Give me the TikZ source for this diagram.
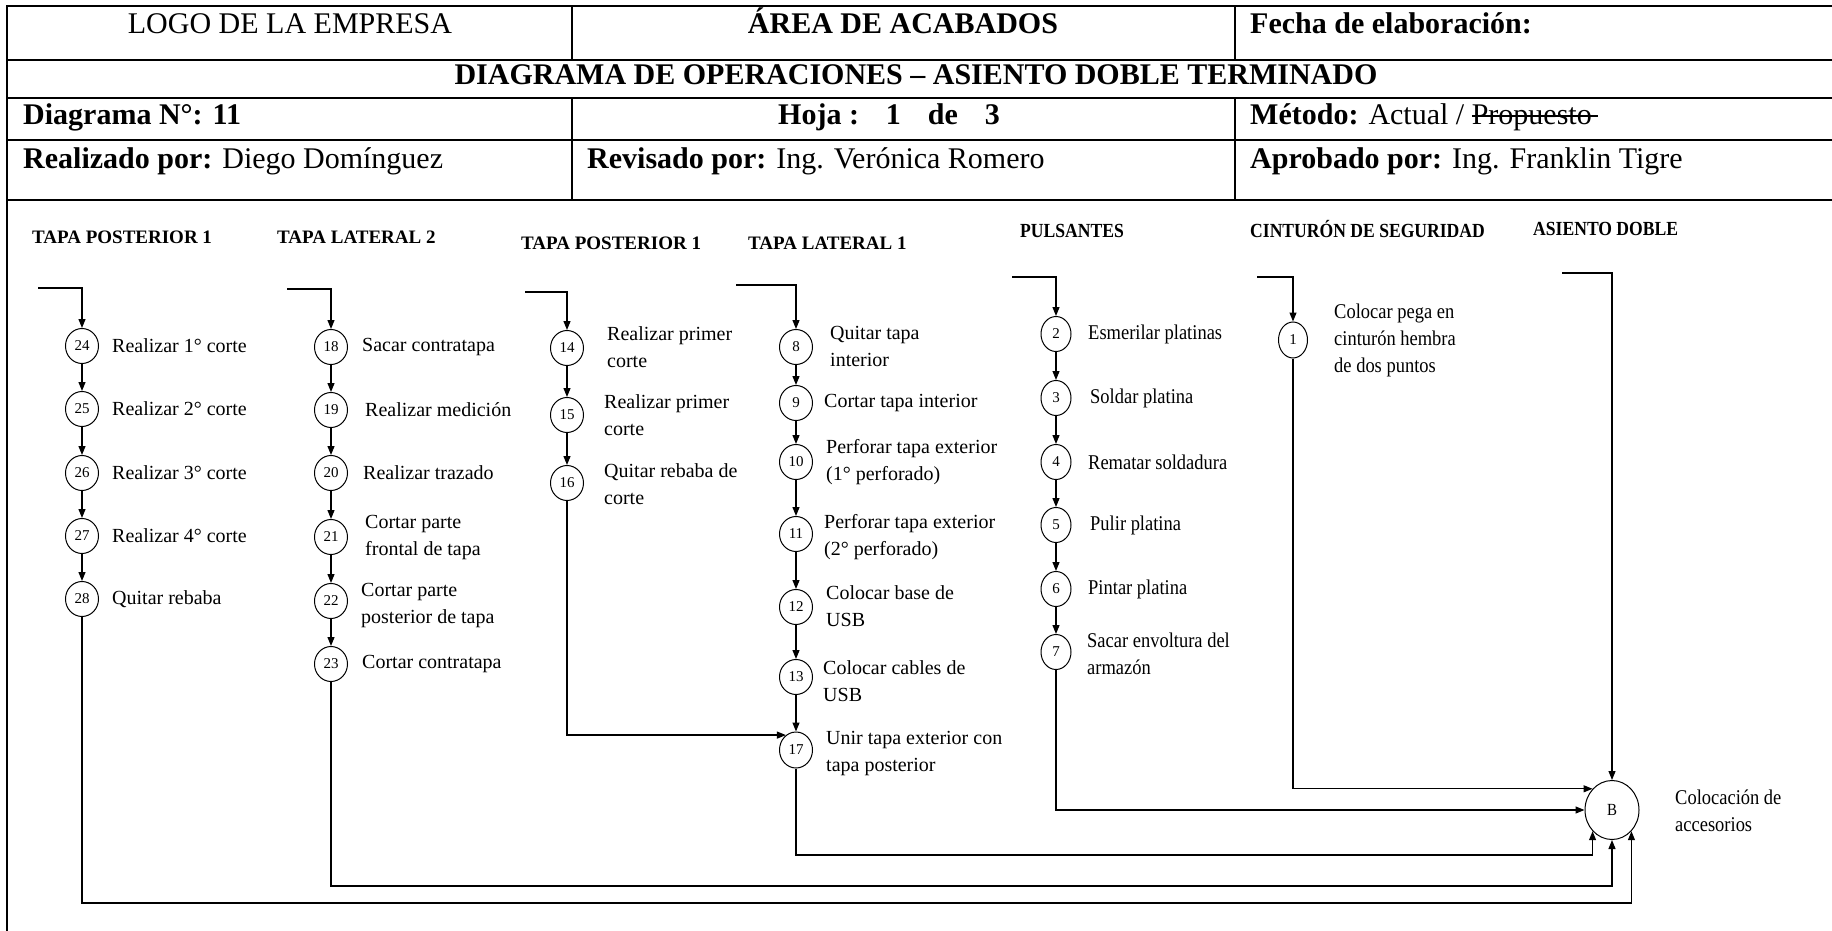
\documentclass[tikz,border=0pt]{standalone}
\usepackage{fontspec}
\setmainfont{Liberation Serif}
\newfontfamily\narrowserif[FakeStretch=0.88]{Liberation Serif}
\usetikzlibrary{arrows.meta,shapes.geometric}
% struck-through word
\newcommand{\tachado}[1]{\setbox0\hbox{#1}\rlap{\rule[0.28em]{\dimexpr\wd0+0.2em\relax}{1.3pt}}\box0}

\begin{document}
\begin{tikzpicture}[x=1pt,y=-1pt,
  frame/.style={line width=2pt},
  link/.style={line width=1.2pt},
  arr/.style={link,-{Triangle[length=9pt,width=7pt]}},
  op/.style={draw,ellipse,line width=1pt,minimum width=33pt,minimum height=35pt,
    inner sep=0pt,font=\fontsize{15}{15}\selectfont},
  opn/.style={op,minimum width=30pt,minimum height=35pt},
  lbl/.style={anchor=west,align=left,inner sep=0pt,font=\fontsize{20}{27}\selectfont},
  lbln/.style={lbl,font=\narrowserif\fontsize{21}{27}\selectfont},
  ttl/.style={anchor=base west,inner sep=0pt,font=\fontsize{19}{22}\selectfont\bfseries},
  ttln/.style={ttl,font=\narrowserif\fontsize{20}{22}\selectfont\bfseries},
  htxt/.style={inner sep=0pt,font=\fontsize{30}{34}\selectfont}]
\useasboundingbox (0,0) rectangle (1832,931);

% ---------- header table ----------
\draw[frame] (7,931) -- (7,6) -- (1832,6);
\foreach \yy in {60,98,140,200} \draw[frame] (7,\yy) -- (1832,\yy);
\foreach \xx in {572,1235} {
  \draw[frame] (\xx,6) -- (\xx,60);
  \draw[frame] (\xx,98) -- (\xx,200);
}
\node[htxt,anchor=base] (logo) at (290,34) {LOGO DE LA EMPRESA};
\node[htxt,anchor=base] (area) at (903,34) {\bfseries ÁREA DE ACABADOS};
\node[htxt,anchor=base west] (fecha) at (1250,34) {\bfseries Fecha de elaboración:};
\node[htxt,anchor=base] (titulo) at (916,85) {\bfseries DIAGRAMA DE OPERACIONES – ASIENTO DOBLE TERMINADO};
\node[htxt,anchor=base west] (num) at (23,125) {\bfseries Diagrama N°: 11};
\node[htxt,anchor=base west] (hoja) at (778,125) {\bfseries Hoja :\hspace{0.9em}1\hspace{0.9em}de\hspace{0.9em}3};
\node[htxt,anchor=base west] (metodo) at (1250,125) {\textbf{Método:} Actual / \tachado{Propuesto}};
\node[htxt,anchor=base west] (realiza) at (23,168) {\textbf{Realizado por:} Diego Domínguez};
\node[htxt,anchor=base west] (revisa) at (587,168) {\textbf{Revisado por:} Ing. Verónica Romero};
\node[htxt,anchor=base west] (aprueba) at (1250,168) {\textbf{Aprobado por:} Ing. Franklin Tigre};

% ---------- column titles ----------
\node[ttl] (t1) at (32,243) {TAPA POSTERIOR 1};
\node[ttl] (t2) at (277,243) {TAPA LATERAL 2};
\node[ttl] (t3) at (521,249) {TAPA POSTERIOR 1};
\node[ttl] (t4) at (748,249) {TAPA LATERAL 1};
\node[ttln] (t5) at (1020,237) {PULSANTES};
\node[ttln] (t6) at (1250,237) {CINTURÓN DE SEGURIDAD};
\node[ttln] (t7) at (1533,235) {ASIENTO DOBLE};

% ---------- tapa posterior 1 (24-28) ----------
\node[op] (c24) at (82,346) {24};
\node[op] (c25) at (82,409) {25};
\node[op] (c26) at (82,473) {26};
\node[op] (c27) at (82,536) {27};
\node[op] (c28) at (82,599) {28};
\node[lbl] (l24) at (112,346) {Realizar 1° corte};
\node[lbl] (l25) at (112,409) {Realizar 2° corte};
\node[lbl] (l26) at (112,473) {Realizar 3° corte};
\node[lbl] (l27) at (112,536) {Realizar 4° corte};
\node[lbl] (l28) at (112,599) {Quitar rebaba};

% ---------- tapa lateral 2 (18-23) ----------
\node[op] (c18) at (331,347) {18};
\node[op] (c19) at (331,410) {19};
\node[op] (c20) at (331,473) {20};
\node[op] (c21) at (331,537) {21};
\node[op] (c22) at (331,601) {22};
\node[op] (c23) at (331,664) {23};
\node[lbl] (l18) at (362,347) {Sacar contratapa};
\node[lbl] (l19) at (365,410) {Realizar medición};
\node[lbl] (l20) at (363,473) {Realizar trazado};
\node[lbl] (l21) at (365,538) {Cortar parte\\frontal de tapa};
\node[lbl] (l22) at (361,606) {Cortar parte\\posterior de tapa};
\node[lbl] (l23) at (362,664) {Cortar contratapa};

% ---------- tapa posterior 1 (14-16) ----------
\node[op] (c14) at (567,348) {14};
\node[op] (c15) at (567,415) {15};
\node[op] (c16) at (567,483) {16};
\node[lbl] (l14) at (607,347) {Realizar primer\\corte};
\node[lbl] (l15) at (604,415) {Realizar primer\\corte};
\node[lbl] (l16) at (604,484) {Quitar rebaba de\\corte};

% ---------- tapa lateral 1 (8-13, 17) ----------
\node[op] (c8) at (796,347) {8};
\node[op] (c9) at (796,403) {9};
\node[op] (c10) at (796,462) {10};
\node[op] (c11) at (796,534) {11};
\node[op] (c12) at (796,607) {12};
\node[op] (c13) at (796,677) {13};
\node[op,minimum height=36pt] (c17) at (796,750) {17};
\node[lbl] (l8) at (830,346) {Quitar tapa\\interior};
\node[lbl] (l9) at (824,403) {Cortar tapa interior};
\node[lbl] (l10) at (826,462) {Perforar tapa exterior\\(1° perforado)};
\node[lbl] (l11) at (824,537) {Perforar tapa exterior\\(2° perforado)};
\node[lbl] (l12) at (826,606) {Colocar base de\\USB};
\node[lbl] (l13) at (823,681) {Colocar cables de\\USB};
\node[lbl] (l17) at (826,754) {Unir tapa exterior con\\tapa posterior};

% ---------- pulsantes (2-7) ----------
\node[opn] (c2) at (1056,334) {2};
\node[opn] (c3) at (1056,398) {3};
\node[opn] (c4) at (1056,462) {4};
\node[opn] (c5) at (1056,525) {5};
\node[opn] (c6) at (1056,589) {6};
\node[opn] (c7) at (1056,652) {7};
\node[lbln] (l2) at (1088,334) {Esmerilar platinas};
\node[lbln] (l3) at (1090,398) {Soldar platina};
\node[lbln] (l4) at (1088,462) {Rematar soldadura};
\node[lbln] (l5) at (1090,525) {Pulir platina};
\node[lbln] (l6) at (1088,589) {Pintar platina};
\node[lbln] (l7) at (1087,654) {Sacar envoltura del\\armazón};

% ---------- cinturon de seguridad (1) ----------
\node[opn,minimum width=29pt,minimum height=36pt] (c1) at (1293,340) {1};
\node[lbln] (l1) at (1334,340) {Colocar pega en\\cinturón hembra\\de dos puntos};

% ---------- asiento doble: assembly B ----------
\node[op,minimum width=54pt,minimum height=59pt,font=\narrowserif\fontsize{17}{17}\selectfont] (B) at (1612,810) {B};
\node[lbln] (lB) at (1675,811) {Colocación de\\accesorios};

% ---------- entry lines ----------
\coordinate (s1) at (38,288);
\coordinate (s2) at (287,289);
\coordinate (s3) at (525,292);
\coordinate (s4) at (736,285);
\coordinate (s5) at (1012,277);
\coordinate (s6) at (1257,277);
\coordinate (s7) at (1562,273);
\draw[arr] (s1) -| (c24);
\draw[arr] (s2) -| (c18);
\draw[arr] (s3) -| (c14);
\draw[arr] (s4) -| (c8);
\draw[arr] (s5) -| (c2);
\draw[arr] (s6) -| (c1);
\draw[arr] (s7) -| (B.north);

% ---------- sequences ----------
\foreach \a/\b in {c24/c25,c25/c26,c26/c27,c27/c28,
  c18/c19,c19/c20,c20/c21,c21/c22,c22/c23,
  c14/c15,c15/c16,
  c8/c9,c9/c10,c10/c11,c11/c12,c12/c13,c13/c17,
  c2/c3,c3/c4,c4/c5,c5/c6,c6/c7}
  \draw[arr] (\a) -- (\b);

% ---------- joins ----------
\coordinate (busA) at (0,855);
\coordinate (busB) at (0,886);
\coordinate (busC) at (0,903);
\draw[arr] (c16) |- (c17.124);
\draw[arr] (c1) -- (c1 |- B.north west) -- (B.north west);
\draw[arr] (c7) -- (c7 |- B.west) -- (B.west);
\draw[arr] (c17) -- (c17 |- busA) -| (B.south west);
\draw[arr] (c23) -- (c23 |- busB) -| (B.south);
\draw[arr] (c28) -- (c28 |- busC) -| (B.south east);
\end{tikzpicture}
\end{document}
